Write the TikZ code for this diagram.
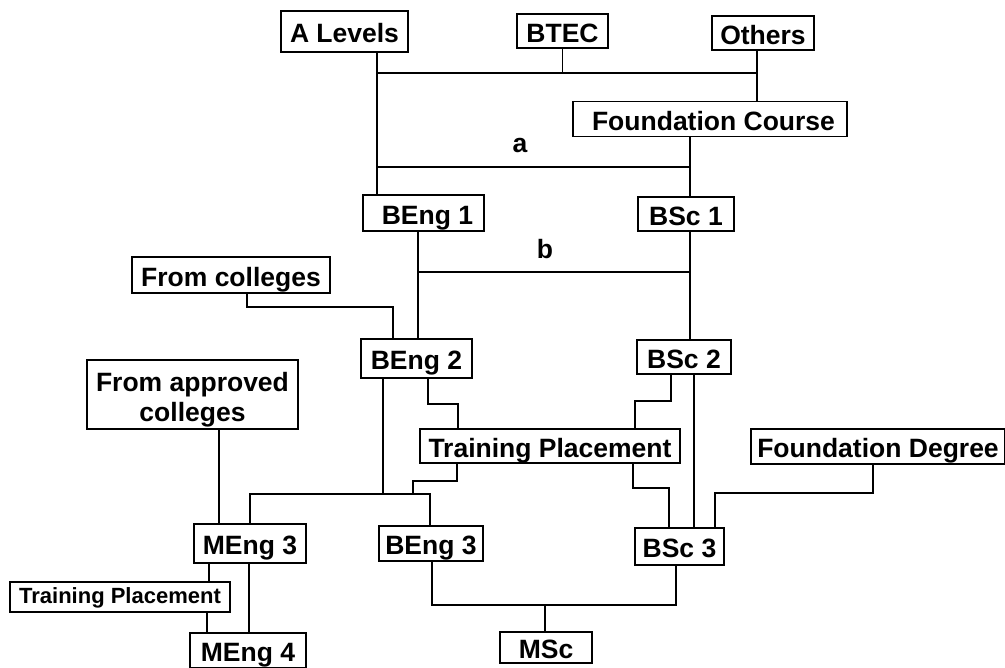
\documentclass[tikz,border=0pt]{standalone}
\usepackage{fontspec}
\setmainfont{Liberation Sans}
\tikzset{
  box/.style={draw=black, line width=1.4pt, inner sep=0pt, fill=white,
    font=\bfseries\fontsize{26.5}{30}\selectfont, align=center,
    text height=26pt, text depth=3.4pt},
  twobox/.style={box, text height=60pt, text depth=5pt},
  smallbox/.style={box, font=\bfseries\fontsize{22}{26}\selectfont,
    text height=17pt, text depth=3.2pt},
  lbl/.style={inner sep=0pt, font=\bfseries\fontsize{26.5}{30}\selectfont},
  conn/.style={draw=black, line width=1.4pt}
}
\begin{document}
\begin{tikzpicture}[x=1pt,y=-1pt]
\useasboundingbox[fill=white] (0,0) rectangle (1005,668);
% boxes
\node[box, minimum width=127pt, minimum height=41pt] (al) at (344.5,31.5) {A Levels};
\node[box, minimum width=91pt, minimum height=34pt] (btec) at (562.5,31) {BTEC};
\node[box, minimum width=102pt, minimum height=34pt] (others) at (763,33) {Others};
\node[box, minimum width=274pt, minimum height=35pt] (fc) at (710,119) {\hspace*{7pt}Foundation Course};
\node[box, minimum width=121pt, minimum height=36pt] (beng1) at (423.5,213) {\hspace*{8pt}BEng 1};
\node[box, minimum width=96pt, minimum height=34pt] (bsc1) at (686,214) {BSc 1};
\node[box, minimum width=198pt, minimum height=36pt] (fromcol) at (231,275) {From colleges};
\node[box, minimum width=111pt, minimum height=39pt] (beng2) at (416.5,358.5) {BEng 2};
\node[box, minimum width=94pt, minimum height=34pt] (bsc2) at (684,357) {BSc 2};
\node[twobox, minimum width=211pt, minimum height=69pt] (fromapp) at (192.5,394.5) {From approved\\colleges};
\node[box, minimum width=260pt, minimum height=34pt] (tp) at (550,446) {Training Placement};
\node[box, minimum width=254pt, minimum height=35pt] (fd) at (878,446.5) {Foundation Degree};
\node[box, minimum width=112pt, minimum height=39pt] (meng3) at (250,543.5) {MEng 3};
\node[box, minimum width=104pt, minimum height=35pt] (beng3) at (431,543.5) {BEng 3};
\node[box, minimum width=89pt, minimum height=37pt] (bsc3) at (679.5,546.5) {BSc 3};
\node[smallbox, minimum width=220pt, minimum height=30pt] (tps) at (120,597) {Training Placement};
\node[box, minimum width=116pt, minimum height=35pt] (meng4) at (248,650.5) {MEng 4};
\node[box, minimum width=92pt, minimum height=31pt] (msc) at (546,647.5) {MSc};
% labels
\node[lbl] (la) at (520,146) {a};
\node[lbl] (lb) at (545,249) {b};
% junction coordinates
\coordinate (t1) at (377,73);
\coordinate (t3) at (757,73);
\coordinate (a1) at (377,167);
\coordinate (a2) at (690,167);
\coordinate (b1) at (418,272);
\coordinate (b2) at (690,272);
\coordinate (c1) at (247,307);
\coordinate (c2) at (393,307);
\coordinate (fa) at (219,0);
\coordinate (e1) at (428,404);
\coordinate (e2) at (458,404);
\coordinate (s1) at (671,401);
\coordinate (s2) at (635,401);
\coordinate (s3) at (694,0);
\coordinate (m1) at (250,494);
\coordinate (m2) at (430,494);
\coordinate (m3) at (383,494);
\coordinate (p1) at (457,481);
\coordinate (p2) at (413,481);
\coordinate (p3) at (413,494);
\coordinate (q1) at (633,488);
\coordinate (q2) at (669,488);
\coordinate (f1) at (873,493);
\coordinate (f2) at (715,493);
\coordinate (n1) at (432,605);
\coordinate (n2) at (676,605);
\coordinate (n3) at (545,605);
\coordinate (g1) at (209,0);
\coordinate (g2) at (249,0);
\coordinate (g3) at (207,0);
% connectors
\draw[conn] (al.south -| t1) -- (beng1.north -| t1);
\draw[conn] (t1) -- (t3);
\draw[conn] (btec.south) -- (btec.south |- t1);
\draw[conn] (others.south -| t3) -- (fc.north -| t3);
\draw[conn] (a1) -- (a2);
\draw[conn] (fc.south -| a2) -- (bsc1.north -| a2);
\draw[conn] (beng1.south -| b1) -- (beng2.north -| b1);
\draw[conn] (bsc1.south -| b2) -- (bsc2.north -| b2);
\draw[conn] (b1) -- (b2);
\draw[conn] (fromcol.south -| c1) -- (c1) -- (c2) -- (beng2.north -| c2);
\draw[conn] (fromapp.south -| fa) -- (meng3.north -| fa);
\draw[conn] (beng2.south -| e1) -- (e1) -- (e2) -- (tp.north -| e2);
\draw[conn] (bsc2.south -| s1) -- (s1) -- (s2) -- (tp.north -| s2);
\draw[conn] (bsc2.south -| s3) -- (bsc3.north -| s3);
\draw[conn] (beng2.south -| m3) -- (m3);
\draw[conn] (meng3.north -| m1) -- (m1) -- (m2) -- (beng3.north -| m2);
\draw[conn] (tp.south -| p1) -- (p1) -- (p2) -- (p3);
\draw[conn] (tp.south -| q1) -- (q1) -- (q2) -- (bsc3.north -| q2);
\draw[conn] (fd.south -| f1) -- (f1) -- (f2) -- (bsc3.north -| f2);
\draw[conn] (beng3.south -| n1) -- (n1) -- (n2) -- (bsc3.south -| n2);
\draw[conn] (n3) -- (msc.north -| n3);
\draw[conn] (meng3.south -| g1) -- (tps.north -| g1);
\draw[conn] (meng3.south -| g2) -- (meng4.north -| g2);
\draw[conn] (tps.south -| g3) -- (meng4.north -| g3);
\end{tikzpicture}
\end{document}
